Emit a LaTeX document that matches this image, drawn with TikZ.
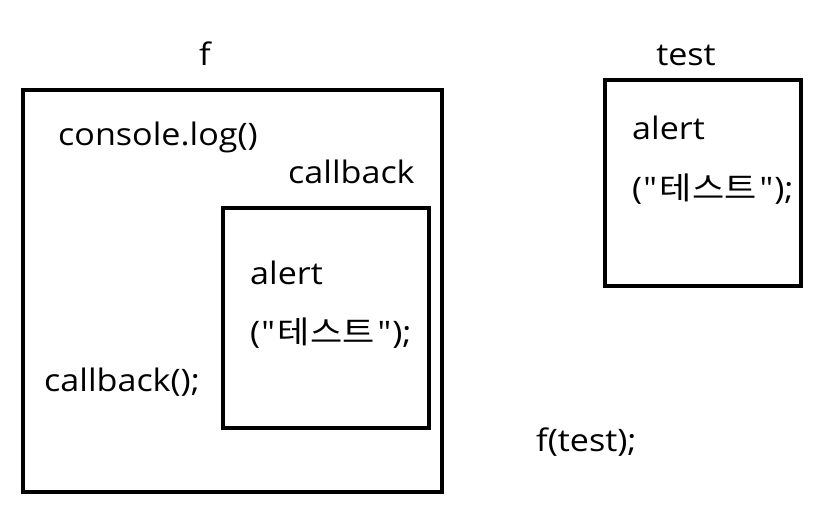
\documentclass[tikz,border=0pt]{standalone}
\usepackage{fontspec}
\setmainfont{Open Sans}[Ligatures=TeXOff,FakeStretch=1.1]
\newfontfamily\kofont{Noto Sans CJK KR}[Ligatures=TeXOff,FakeStretch=1.13]
\newcommand{\testcall}{(\kern1pt"\kern3pt{\kofont 테스트}\kern3pt"\kern1pt);}
\begin{document}
\begin{tikzpicture}[x=1pt,y=-1pt,
  box/.style={draw=black,line width=4pt},
  lbl/.style={font=\fontsize{31}{36}\selectfont,inner sep=0pt,anchor=base west}]
\useasboundingbox (0,0) rectangle (822,516);
\draw[box] (23,90) rectangle (442,492);
\draw[box] (223,208) rectangle (429,428);
\draw[box] (605,80) rectangle (801,286);
\node[lbl,anchor=base] (f) at (205,66) {f};
\node[lbl] (cl) at (58,146) {console.log()};
\node[lbl] (cb) at (288,183) {callback};
\node[lbl] (a1) at (250,284) {alert};
\node[lbl] (t1) at (250,343) {\testcall};
\node[lbl] (cbc) at (44,391) {callback();};
\node[lbl,anchor=base] (test) at (686,66) {test};
\node[lbl] (a2) at (632,140) {alert};
\node[lbl] (t2) at (632,200) {\testcall};
\node[lbl] (ft) at (536,451) {f(test);};
\end{tikzpicture}
\end{document}
